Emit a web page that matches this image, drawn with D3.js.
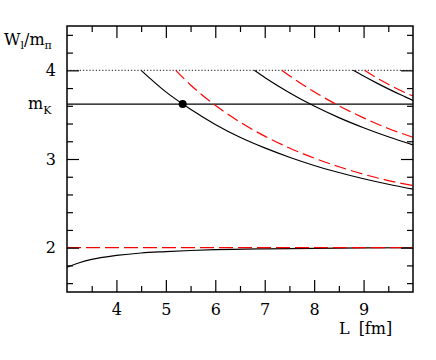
<!DOCTYPE html>
<html lang="en">
<head>
<meta charset="utf-8">
<script src="https://d3js.org/d3.v7.min.js"></script>
<style type="text/css">
  body { margin: 0; background: #fff; }
  text { font-family: "DejaVu Serif", serif; font-size: 16px; fill: #000; }
  .axis path { display: none; }
  .axis line { stroke: #000; stroke-width: 1.2; }
</style>
</head>
<body>
<script type="text/javascript">

  // size of the page and the plot frame
  var width = 436;
  var height = 360;
  var frameL = 67, frameR = 413, frameT = 26, frameB = 292;

  // tick values
  var xMajor = [4, 5, 6, 7, 8, 9];
  var xMinor = [3.5, 4.5, 5.5, 6.5, 7.5, 8.5, 9.5];
  var yMajor = [2, 3, 4];
  var yMinor = [1.6, 1.8, 2.2, 2.4, 2.6, 2.8, 3.2, 3.4, 3.6, 3.8, 4.2, 4.4];

  // horizontal reference levels (in units of m_pi)
  var freeLevel = 2;      // two free pions
  var kaonLevel = 3.62;   // m_K
  var cutLevel = 4;       // four pion threshold

  // free levels (red dashed), [L, W/m_pi]
  var red1 = [[5.2, 4.0], [5.5, 3.835], [6, 3.606], [6.5, 3.416], [7, 3.258], [7.5, 3.124],
              [8, 3.010], [8.5, 2.913], [9, 2.828], [9.5, 2.757], [10, 2.70]];
  var red2 = [[7.35, 4.0], [7.5, 3.94], [8, 3.758], [8.5, 3.601], [9, 3.464], [9.5, 3.344], [10, 3.245]];
  var red3 = [[9.02, 4.0], [9.25, 3.919], [9.5, 3.843], [9.75, 3.772], [10, 3.71]];

  // interacting levels (black)
  var black1 = [[4.5, 4.0], [5, 3.757], [5.5, 3.561], [6, 3.39], [6.5, 3.245], [7, 3.125],
                [7.5, 3.02], [8, 2.927], [8.5, 2.848], [9, 2.777], [9.5, 2.715], [10, 2.66]];
  var black2 = [[6.79, 4.0], [7, 3.92], [7.5, 3.748], [8, 3.597], [8.5, 3.467], [9, 3.353], [9.5, 3.251], [10, 3.16]];
  var black3 = [[8.79, 4.0], [9, 3.935], [9.25, 3.861], [9.5, 3.791], [9.75, 3.724], [10, 3.66]];
  var ground = [[3, 1.78], [3.25, 1.83], [3.5, 1.868], [4, 1.912], [4.5, 1.94], [5, 1.955],
                [5.5, 1.968], [6, 1.977], [7, 1.987], [8, 1.993], [9, 1.997], [10, 1.999]];

  // crossing with m_K
  var dotL = 5.34;

  var x = d3.scaleLinear().domain([3, 10]).range([frameL, frameR]);
  var y = d3.scaleLinear().domain([1.5, 4.5]).range([frameB, frameT]);

  var svg = d3.select("body")
    .append("svg")
    .attr("width", width)
    .attr("height", height);

  var plot = svg.append("g");

  plot.append("clipPath").attr("id", "clip")
    .append("rect")
    .attr("x", frameL).attr("y", frameT)
    .attr("width", frameR - frameL).attr("height", frameB - frameT);

  var curves = plot.append("g").attr("clip-path", "url(#clip)");

  var line = d3.line()
    .x(function(d) { return x(d[0]); })
    .y(function(d) { return y(d[1]); })
    .curve(d3.curveMonotoneX);

  // horizontal levels
  curves.append("line")
    .attr("x1", x(3)).attr("x2", x(10))
    .attr("y1", y(cutLevel)).attr("y2", y(cutLevel))
    .style("stroke", "#444").style("stroke-width", 1.2)
    .style("stroke-dasharray", "1.2,2");

  curves.append("line")
    .attr("x1", x(3)).attr("x2", x(10))
    .attr("y1", y(kaonLevel)).attr("y2", y(kaonLevel))
    .style("stroke", "#000").style("stroke-width", 1.2);

  // black interacting levels
  curves.selectAll("path.level")
    .data([ground, black1, black2, black3])
    .enter()
    .append("path")
    .attr("class", "level")
    .attr("d", line)
    .style("fill", "none")
    .style("stroke", "#000")
    .style("stroke-width", 1.2);

  // two free pions, drawn over the ground level
  curves.append("line")
    .attr("x1", x(3)).attr("x2", x(10))
    .attr("y1", y(freeLevel)).attr("y2", y(freeLevel))
    .style("stroke", "#f00").style("stroke-width", 1.2)
    .style("stroke-dasharray", "14,5");

  // red dashed free levels
  curves.selectAll("path.free")
    .data([red1, red2, red3])
    .enter()
    .append("path")
    .attr("class", "free")
    .attr("d", line)
    .style("fill", "none")
    .style("stroke", "#f00")
    .style("stroke-width", 1.2)
    .style("stroke-dasharray", "12,5");

  plot.append("circle")
    .attr("cx", x(dotL))
    .attr("cy", y(kaonLevel))
    .attr("r", 4)
    .style("fill", "#000");

  // ticks on all four sides, pointing inward
  function noText(axis) { return axis.tickFormat("").tickSizeOuter(0); }

  plot.append("g").attr("class", "axis")
    .attr("transform", "translate(0," + frameB + ")")
    .call(d3.axisBottom(x).tickValues(xMajor).tickSize(-12).tickSizeOuter(0).tickPadding(12).tickFormat(d3.format("d")));
  plot.append("g").attr("class", "axis")
    .attr("transform", "translate(0," + frameB + ")")
    .call(noText(d3.axisBottom(x).tickValues(xMinor).tickSize(-6)));
  plot.append("g").attr("class", "axis")
    .attr("transform", "translate(0," + frameT + ")")
    .call(noText(d3.axisTop(x).tickValues(xMajor).tickSize(-12)));
  plot.append("g").attr("class", "axis")
    .attr("transform", "translate(0," + frameT + ")")
    .call(noText(d3.axisTop(x).tickValues(xMinor).tickSize(-6)));

  plot.append("g").attr("class", "axis")
    .attr("transform", "translate(" + frameL + ",0)")
    .call(d3.axisLeft(y).tickValues(yMajor).tickSize(-12).tickSizeOuter(0).tickPadding(11).tickFormat(d3.format("d")));
  plot.append("g").attr("class", "axis")
    .attr("transform", "translate(" + frameL + ",0)")
    .call(noText(d3.axisLeft(y).tickValues(yMinor).tickSize(-6)));
  plot.append("g").attr("class", "axis")
    .attr("transform", "translate(" + frameR + ",0)")
    .call(noText(d3.axisRight(y).tickValues(yMajor).tickSize(-12)));
  plot.append("g").attr("class", "axis")
    .attr("transform", "translate(" + frameR + ",0)")
    .call(noText(d3.axisRight(y).tickValues(yMinor).tickSize(-6)));

  plot.selectAll(".axis text")
    .style("font-family", "DejaVu Serif, serif")
    .style("font-size", "16px");

  // frame
  plot.append("rect")
    .attr("x", frameL).attr("y", frameT)
    .attr("width", frameR - frameL).attr("height", frameB - frameT)
    .style("fill", "none")
    .style("stroke", "#000")
    .style("stroke-width", 1.5);

  // m_K label on the left
  var mk = svg.append("text")
    .attr("x", 28).attr("y", y(kaonLevel) + 5);
  mk.append("tspan").text("m");
  mk.append("tspan").attr("dy", 5).style("font-size", "11px").text("K");

  // y title
  var yt = svg.append("text").attr("x", 4).attr("y", 45);
  yt.append("tspan").text("W");
  yt.append("tspan").attr("dy", 4).style("font-size", "11px").text("l");
  yt.append("tspan").attr("dy", -4).text("/m");
  yt.append("tspan").attr("dy", 4).style("font-size", "11px").text("π");

  // x title
  var xt = svg.append("text").attr("x", 339).attr("y", 334);
  xt.append("tspan").text("L");
  xt.append("tspan").attr("dx", 9).text("[fm]");

</script>
</body>
</html>
